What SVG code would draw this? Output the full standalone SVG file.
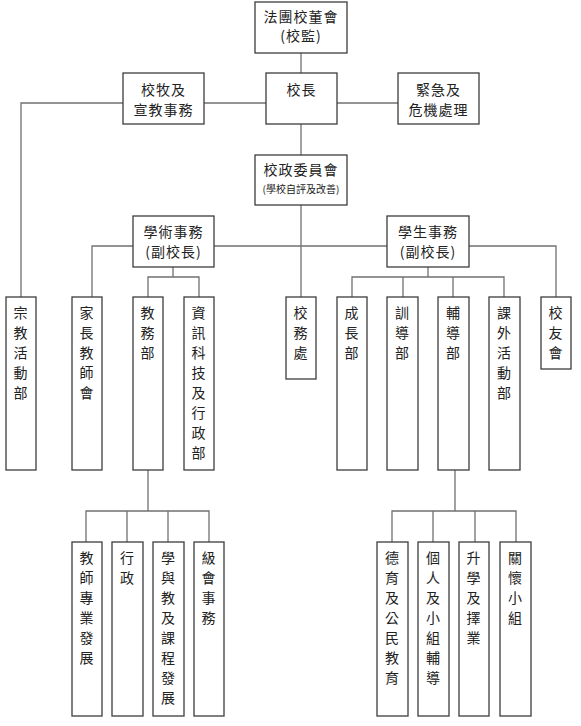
<svg xmlns="http://www.w3.org/2000/svg" width="581" height="726" viewBox="0 0 581 726">
<style>
rect.b{fill:#fff;stroke:#3c3c3c;stroke-width:1.3}
.c line,.c polyline{stroke:#707070;stroke-width:1.3;fill:none}
text{font-family:"Noto Sans CJK TC","Noto Sans CJK SC",sans-serif;font-size:14px;fill:#222;text-anchor:middle;letter-spacing:1px}
text.s{font-size:10px;letter-spacing:0}
</style>
<rect width="581" height="726" fill="#fff"/>
<g class="c" id="connectors">
<line x1="301" y1="53" x2="301" y2="73"/>
<line x1="204" y1="103" x2="266" y2="103"/>
<line x1="337" y1="103" x2="398" y2="103"/>
<polyline points="123,103 21,103 21,297"/>
<line x1="301" y1="124" x2="301" y2="155"/>
<line x1="301" y1="205" x2="301" y2="297"/>
<line x1="214" y1="246" x2="387" y2="246"/>
<polyline points="133,246 92,246 92,297"/>
<polyline points="469,246 556,246 556,297"/>
<line x1="173" y1="267" x2="173" y2="277"/>
<polyline points="148,297 148,277 199,277 199,297"/>
<line x1="428" y1="267" x2="428" y2="277"/>
<polyline points="352,297 352,277 504,277 504,297"/>
<line x1="403" y1="277" x2="403" y2="297"/>
<line x1="453" y1="277" x2="453" y2="297"/>
<line x1="148" y1="470" x2="148" y2="511"/>
<polyline points="86,542 86,511 209,511 209,542"/>
<line x1="127" y1="511" x2="127" y2="542"/>
<line x1="168" y1="511" x2="168" y2="542"/>
<line x1="455" y1="470" x2="455" y2="511"/>
<polyline points="392,542 392,511 516,511 516,542"/>
<line x1="433" y1="511" x2="433" y2="542"/>
<line x1="475" y1="511" x2="475" y2="542"/>
</g>
<g id="board"><rect class="b" x="255" y="2" width="92" height="51"/><text x="301" y="22">法團校董會</text><text x="301" y="41">(校監)</text></g>
<g id="principal"><rect class="b" x="266" y="73" width="71" height="51"/><text x="301.5" y="95">校長</text></g>
<g id="chaplain"><rect class="b" x="123" y="73" width="81" height="51"/><text x="163.5" y="95">校牧及</text><text x="163.5" y="115">宣教事務</text></g>
<g id="crisis"><rect class="b" x="398" y="73" width="81" height="51"/><text x="438.5" y="95">緊急及</text><text x="438.5" y="115">危機處理</text></g>
<g id="council"><rect class="b" x="255" y="155" width="92" height="50"/><text x="301" y="175">校政委員會</text><text class="s" x="301" y="193">(學校自評及改善)</text></g>
<g id="academic"><rect class="b" x="133" y="216" width="81" height="51"/><text x="173.5" y="237">學術事務</text><text x="173.5" y="257">(副校長)</text></g>
<g id="student"><rect class="b" x="387" y="216" width="82" height="51"/><text x="428" y="237">學生事務</text><text x="428" y="257">(副校長)</text></g>
<g id="religion"><rect class="b" x="6" y="297" width="30" height="173"/><text><tspan x="21" y="318">宗</tspan><tspan x="21" dy="20">教</tspan><tspan x="21" dy="20">活</tspan><tspan x="21" dy="20">動</tspan><tspan x="21" dy="20">部</tspan></text></g>
<g id="pta"><rect class="b" x="72" y="297" width="30" height="173"/><text><tspan x="87" y="318">家</tspan><tspan x="87" dy="20">長</tspan><tspan x="87" dy="20">教</tspan><tspan x="87" dy="20">師</tspan><tspan x="87" dy="20">會</tspan></text></g>
<g id="academic-affairs"><rect class="b" x="133" y="297" width="30" height="173"/><text><tspan x="148" y="318">教</tspan><tspan x="148" dy="20">務</tspan><tspan x="148" dy="20">部</tspan></text></g>
<g id="it-admin"><rect class="b" x="184" y="297" width="30" height="173"/><text><tspan x="199" y="318">資</tspan><tspan x="199" dy="20">訊</tspan><tspan x="199" dy="20">科</tspan><tspan x="199" dy="20">技</tspan><tspan x="199" dy="20">及</tspan><tspan x="199" dy="20">行</tspan><tspan x="199" dy="20">政</tspan><tspan x="199" dy="20">部</tspan></text></g>
<g id="school-office"><rect class="b" x="286" y="297" width="30" height="82"/><text><tspan x="301" y="318">校</tspan><tspan x="301" dy="20">務</tspan><tspan x="301" dy="20">處</tspan></text></g>
<g id="growth"><rect class="b" x="337" y="297" width="30" height="173"/><text><tspan x="352" y="318">成</tspan><tspan x="352" dy="20">長</tspan><tspan x="352" dy="20">部</tspan></text></g>
<g id="discipline"><rect class="b" x="387" y="297" width="31" height="173"/><text><tspan x="402.5" y="318">訓</tspan><tspan x="402.5" dy="20">導</tspan><tspan x="402.5" dy="20">部</tspan></text></g>
<g id="guidance"><rect class="b" x="438" y="297" width="31" height="173"/><text><tspan x="453.5" y="318">輔</tspan><tspan x="453.5" dy="20">導</tspan><tspan x="453.5" dy="20">部</tspan></text></g>
<g id="eca"><rect class="b" x="489" y="297" width="31" height="173"/><text><tspan x="504.5" y="318">課</tspan><tspan x="504.5" dy="20">外</tspan><tspan x="504.5" dy="20">活</tspan><tspan x="504.5" dy="20">動</tspan><tspan x="504.5" dy="20">部</tspan></text></g>
<g id="alumni"><rect class="b" x="541" y="297" width="30" height="72"/><text><tspan x="556" y="318">校</tspan><tspan x="556" dy="20">友</tspan><tspan x="556" dy="20">會</tspan></text></g>
<g id="teacher-dev"><rect class="b" x="72" y="542" width="30" height="174"/><text><tspan x="87" y="563">教</tspan><tspan x="87" dy="20">師</tspan><tspan x="87" dy="20">專</tspan><tspan x="87" dy="20">業</tspan><tspan x="87" dy="20">發</tspan><tspan x="87" dy="20">展</tspan></text></g>
<g id="admin"><rect class="b" x="112" y="542" width="31" height="174"/><text><tspan x="127.5" y="563">行</tspan><tspan x="127.5" dy="20">政</tspan></text></g>
<g id="curriculum"><rect class="b" x="153" y="542" width="31" height="174"/><text><tspan x="168.5" y="563">學</tspan><tspan x="168.5" dy="20">與</tspan><tspan x="168.5" dy="20">教</tspan><tspan x="168.5" dy="20">及</tspan><tspan x="168.5" dy="20">課</tspan><tspan x="168.5" dy="20">程</tspan><tspan x="168.5" dy="20">發</tspan><tspan x="168.5" dy="20">展</tspan></text></g>
<g id="form-affairs"><rect class="b" x="194" y="542" width="30" height="174"/><text><tspan x="209" y="563">級</tspan><tspan x="209" dy="20">會</tspan><tspan x="209" dy="20">事</tspan><tspan x="209" dy="20">務</tspan></text></g>
<g id="moral-civic"><rect class="b" x="377" y="542" width="31" height="174"/><text><tspan x="392.5" y="563">德</tspan><tspan x="392.5" dy="20">育</tspan><tspan x="392.5" dy="20">及</tspan><tspan x="392.5" dy="20">公</tspan><tspan x="392.5" dy="20">民</tspan><tspan x="392.5" dy="20">教</tspan><tspan x="392.5" dy="20">育</tspan></text></g>
<g id="counselling"><rect class="b" x="418" y="542" width="31" height="174"/><text><tspan x="433.5" y="563">個</tspan><tspan x="433.5" dy="20">人</tspan><tspan x="433.5" dy="20">及</tspan><tspan x="433.5" dy="20">小</tspan><tspan x="433.5" dy="20">組</tspan><tspan x="433.5" dy="20">輔</tspan><tspan x="433.5" dy="20">導</tspan></text></g>
<g id="careers"><rect class="b" x="459" y="542" width="30" height="174"/><text><tspan x="474" y="563">升</tspan><tspan x="474" dy="20">學</tspan><tspan x="474" dy="20">及</tspan><tspan x="474" dy="20">擇</tspan><tspan x="474" dy="20">業</tspan></text></g>
<g id="care-group"><rect class="b" x="500" y="542" width="31" height="174"/><text><tspan x="515.5" y="563">關</tspan><tspan x="515.5" dy="20">懷</tspan><tspan x="515.5" dy="20">小</tspan><tspan x="515.5" dy="20">組</tspan></text></g>
</svg>
